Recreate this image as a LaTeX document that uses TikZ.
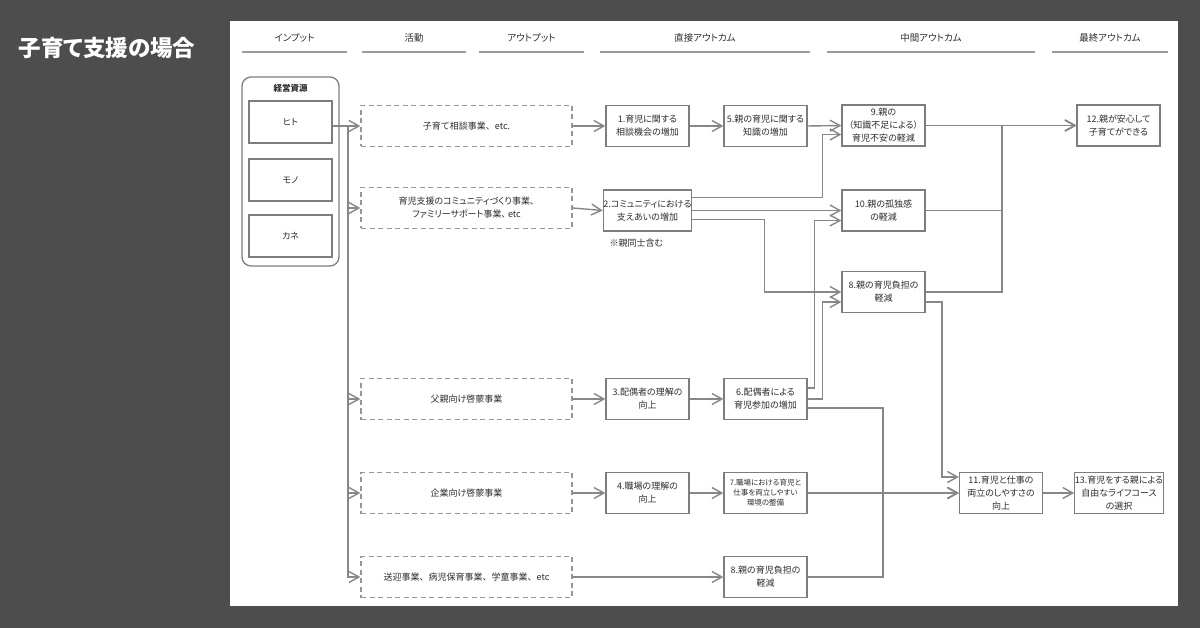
\documentclass[tikz,border=0pt]{standalone}
\usepackage{fontspec}
\setmainfont{Noto Sans CJK JP}[RawFeature=+palt]
\newfontfamily\cjkfull{Noto Sans CJK JP}
\usepackage{tikz}
\usetikzlibrary{arrows.meta, positioning, calc}
\definecolor{bgdark}{RGB}{77,77,77}
\definecolor{boxgray}{RGB}{125,125,125}
\definecolor{dashgray}{RGB}{150,150,150}
\definecolor{linegray}{RGB}{135,135,135}
\definecolor{headgray}{RGB}{155,155,155}
\definecolor{textgray}{RGB}{45,45,45}
\tikzstyle{header} = [font=\fontsize{9.5}{12}\selectfont, text=textgray]
\tikzstyle{underline} = [draw=headgray, line width=1.4pt]
\tikzstyle{group} = [rectangle, rounded corners=9pt, draw=boxgray, line width=1.3pt, minimum width=97pt, minimum height=189pt]
\tikzstyle{resource} = [rectangle, draw=boxgray, line width=1.3pt, minimum width=83pt, minimum height=42pt, font=\fontsize{9}{12}\selectfont, text=textgray]
\tikzstyle{activity} = [rectangle, draw=dashgray, dash pattern=on 5pt off 3.5pt, line width=1.3pt, minimum width=211pt, minimum height=41pt, align=center, font=\fontsize{9}{13}\selectfont, text=textgray]
\tikzstyle{outcome} = [rectangle, draw=boxgray, line width=1.3pt, minimum width=83pt, minimum height=41pt, inner sep=0pt, align=center, font=\fontsize{9}{13}\selectfont, text=textgray]
\tikzstyle{flow} = [-{Straight Barb[length=10pt, width=11pt]}, draw=linegray, line width=1.4pt]

\begin{document}
\begin{tikzpicture}[x=1pt, y=-1pt]
    \fill[bgdark] (0,0) rectangle (1200,628);
    \useasboundingbox (0,0) rectangle (1200,628);
    \fill[white] (230,21) rectangle (1178,606);

    % Title
    \node[font=\fontsize{22.5}{26}\selectfont\bfseries, text=white] (title) at (107,48) {子育て支援の場合};

    % Column headers
    \node[header] (hInput) at (294.5,38) {インプット};
    \node[header] (hAct) at (414,38) {活動};
    \node[header] (hOutput) at (531.5,38) {アウトプット};
    \node[header] (hDirect) at (705,38) {直接アウトカム};
    \node[header] (hMiddle) at (931,38) {中間アウトカム};
    \node[header] (hFinal) at (1110,38) {最終アウトカム};
    \draw[underline] (242,52) -- (347,52);
    \draw[underline] (362,52) -- (466,52);
    \draw[underline] (479,52) -- (584,52);
    \draw[underline] (600,52) -- (810,52);
    \draw[underline] (827,52) -- (1035,52);
    \draw[underline] (1052,52) -- (1168,52);

    % Inputs
    \node[group] (resources) at (290.5,171.5) {};
    \node[font=\fontsize{8.5}{10}\selectfont\bfseries, text=textgray] (resTitle) at (290.5,88) {経営資源};
    \node[resource] (hito) at (290.5,122) {ヒト};
    \node[resource] (mono) at (290.5,180) {モノ};
    \node[resource] (kane) at (290.5,236) {カネ};

    % Activities
    \node[activity] (act1) at (466.5,126) {\cjkfull 子育て相談事業、etc.};
    \node[activity] (act2) at (466.5,208) {育児支援のコミュニティづくり事業、\\ファミリーサポート事業、 etc};
    \node[activity] (act3) at (466.5,399) {父親向け啓蒙事業};
    \node[activity] (act4) at (466.5,493) {企業向け啓蒙事業};
    \node[activity] (act5) at (466.5,577) {\cjkfull 送迎事業、病児保育事業、学童事業、etc};

    % Outputs and direct outcomes
    \node[outcome] (out1) at (647.5,126) {1.育児に関する\\相談機会の増加};
    \node[outcome] (out2) at (647.5,210.5) {2.コミュニティにおける\\支えあいの増加};
    \node[anchor=west, font=\fontsize{9}{12}\selectfont, text=textgray] (note2) at (606,243) {※親同士含む};
    \node[outcome] (out3) at (647.5,399) {3.配偶者の理解の\\向上};
    \node[outcome] (out4) at (647.5,493) {4.職場の理解の\\向上};
    \node[outcome] (out5) at (765.5,126) {5.親の育児に関する\\知識の増加};
    \node[outcome] (out6) at (765.5,399) {6.配偶者による\\育児参加の増加};
    \node[outcome, font=\fontsize{7.5}{10}\selectfont] (out7) at (765.5,493) {7.職場における育児と\\仕事を両立しやすい\\環境の整備};
    \node[outcome] (out8b) at (765.5,577) {8.親の育児負担の\\軽減};

    % Intermediate outcomes
    \node[outcome] (mid9) at (883.5,125.5) {9.親の\\（知識不足による）\\育児不安の軽減};
    \node[outcome] (mid10) at (883.5,210.5) {10.親の孤独感\\の軽減};
    \node[outcome] (mid8a) at (883.5,292) {8.親の育児負担の\\軽減};

    % Final outcomes
    \node[outcome] (res11) at (1001,493) {11.育児と仕事の\\両立のしやすさの\\向上};
    \node[outcome] (res12) at (1118.5,125.5) {12.親が安心して\\子育てができる};
    \node[outcome] (res13) at (1119,493) {13.育児をする親による\\自由なライフコース\\の選択};

    \coordinate (bus) at (348,126);
    \coordinate (join11) at (883,493);
    \coordinate (join12) at (1002,125.5);

    % Inputs to activities
    \draw[flow] (hito.east |- act1.west) -- (act1.west);
    \draw[flow] (bus) |- (act2.west);
    \draw[flow] (bus) |- (act3.west);
    \draw[flow] (bus) |- (act4.west);
    \draw[flow] (bus) |- (act5.west);

    % Activities to outputs
    \draw[flow] (act1.east) -- (out1.west);
    \draw[flow] (act2.east) -- (out2.west);
    \draw[flow] (act3.east) -- (out3.west);
    \draw[flow] (act4.east) -- (out4.west);
    \draw[flow] (act5.east) -- (out8b.west);

    % Outputs onwards
    \draw[flow] (out1.east) -- (out5.west);
    \draw[flow] (out3.east) -- (out6.west);
    \draw[flow] (out4.east) -- (out7.west);
    \draw[flow] (out5.east) -- (mid9.west);
    \draw[flow] ([yshift=-8pt]out2.north east) -| ([xshift=-19pt,yshift=-9pt]mid9.west) -- ([yshift=-9pt]mid9.west); % 2 to 9
    \draw[flow] (out2.east) -- (mid10.west); % 2 to 10
    \draw[flow] ([yshift=-9pt]out2.east) -| ([xshift=-77pt]mid8a.west) -- (mid8a.west); % 2 to 8
    \draw[flow] ([yshift=11pt]out6.east) -| ([xshift=-27pt,yshift=-10pt]mid10.west) -- ([yshift=-10pt]mid10.west); % 6 to 10
    \draw[flow] (out6.east) -| ([xshift=-19pt,yshift=-10pt]mid8a.west) -- ([yshift=-10pt]mid8a.west); % 6 to 8
    \draw[flow] ([yshift=-9pt]out6.east) -| (join11) -- (res11.west); % 6 to 11
    \draw[flow] (out7.east) -- (res11.west); % 7 to 11
    \draw[flow] (out8b.east) -| (join11) -- (res11.west); % 8 to 11
    \draw[flow] ([yshift=-10pt]mid8a.east) -| ([xshift=-17pt,yshift=16pt]res11.west) -- ([yshift=16pt]res11.west); % 8 to 11

    % Towards final outcomes
    \draw[flow] (mid9.east) -- (res12.west);
    \draw[flow] (mid10.east) -| (join12) -- (res12.west);
    \draw[flow] (mid8a.east) -| (join12) -- (res12.west);
    \draw[flow] (res11.east) -- (res13.west);
\end{tikzpicture}
\end{document}
